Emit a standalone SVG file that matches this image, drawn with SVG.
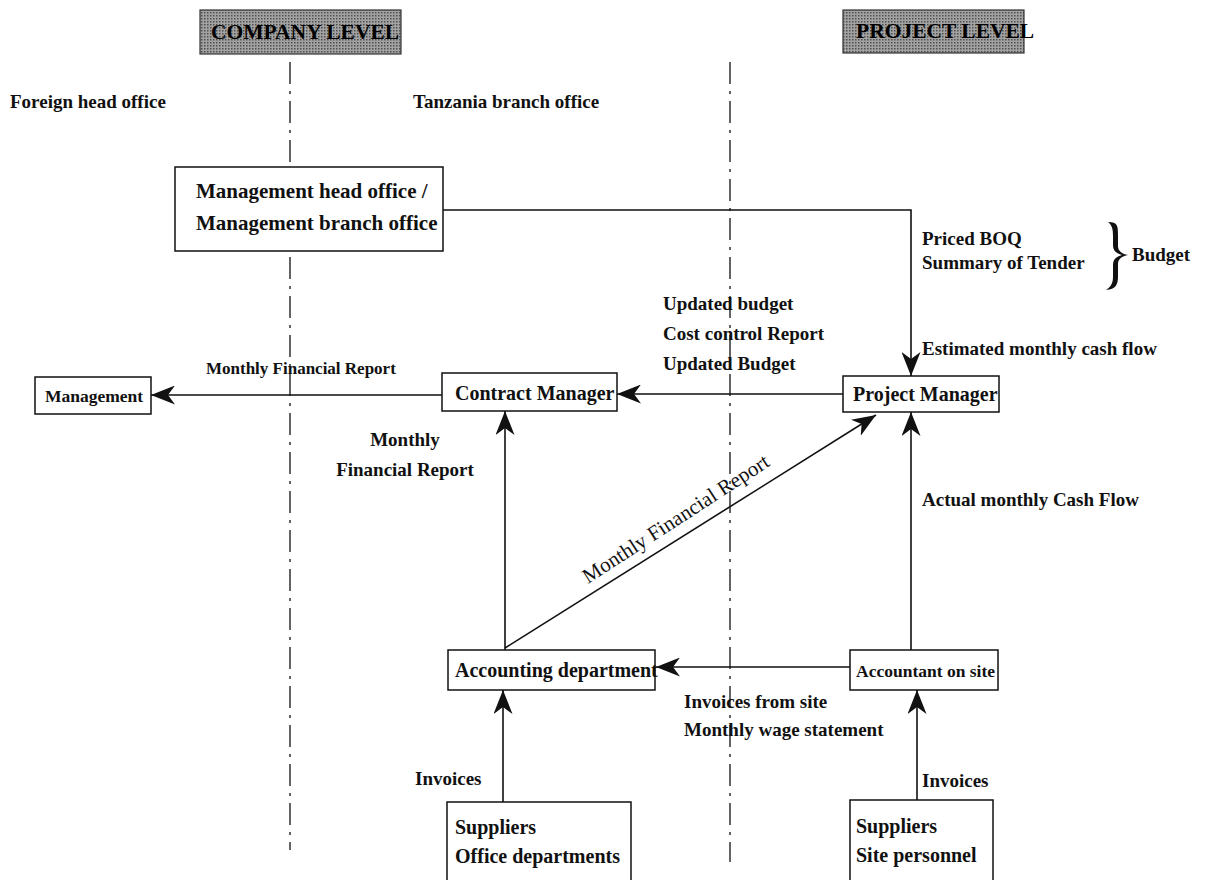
<svg xmlns="http://www.w3.org/2000/svg" width="1214" height="880" viewBox="0 0 1214 880">
  <style>
    .t { font-family: "Liberation Serif", "Times New Roman", serif; font-weight: bold; font-size: 19px; fill: #111; }
    .n { font-family: "Liberation Serif", "Times New Roman", serif; font-weight: bold; font-size: 20px; fill: #111; }
    .r { font-family: "Liberation Serif", "Times New Roman", serif; font-size: 21px; fill: #111; }
    .big { font-size: 21px; }
    .small { font-size: 17px; }
    .mid { font-size: 17.5px; }
    .box { fill: #fff; stroke: #111; stroke-width: 1.5; }
    .edge { fill: none; stroke: #111; stroke-width: 1.6; }
    .divider { fill: none; stroke: #222; stroke-width: 1.4; stroke-dasharray: 22 7 3 7; }
    .banner { stroke: #333; stroke-width: 1.2; fill: url(#halftone); }
    .bt { font-family: "Liberation Serif", "Times New Roman", serif; font-weight: bold; font-size: 21.5px; fill: #000; }
  </style>
  <defs>
    <pattern id="halftone" width="3" height="3" patternUnits="userSpaceOnUse">
      <rect width="3" height="3" fill="#a2a2a2"/>
      <rect x="0" y="0" width="1.5" height="1.5" fill="#505050"/>
    </pattern>
    <marker id="arr" viewBox="0 0 24 19" refX="24" refY="9.5" markerWidth="24" markerHeight="19" markerUnits="userSpaceOnUse" orient="auto">
      <path d="M0,0 L24,9.5 L0,19 L7,9.5 Z" fill="#111"/>
    </marker>
  </defs>
  <rect width="1214" height="880" fill="#fff"/>

  <!-- level banners -->
  <g id="company-level">
    <rect class="banner" x="200" y="10" width="201" height="44"/>
    <text class="bt" x="211" y="39">COMPANY LEVEL</text>
  </g>
  <g id="project-level">
    <rect class="banner" x="843" y="10" width="181" height="43"/>
    <text class="bt" x="856" y="38">PROJECT LEVEL</text>
  </g>

  <!-- column dividers -->
  <g id="dividers">
    <line class="divider" x1="290" y1="62" x2="290" y2="850"/>
    <line class="divider" x1="730" y1="62" x2="730" y2="862"/>
  </g>

  <!-- column headings -->
  <text class="t" x="10" y="108">Foreign head office</text>
  <text class="t" x="413" y="108">Tanzania branch office</text>

  <!-- connectors -->
  <g id="connectors">
    <path class="edge" d="M443,210 H911 V376" marker-end="url(#arr)"/>
    <path class="edge" d="M843,394 H617" marker-end="url(#arr)"/>
    <path class="edge" d="M442,395 H151" marker-end="url(#arr)"/>
    <path class="edge" d="M505,650 V411" marker-end="url(#arr)"/>
    <path class="edge" d="M505,648 L876,415" marker-end="url(#arr)"/>
    <path class="edge" d="M850,667 H656" marker-end="url(#arr)"/>
    <path class="edge" d="M911,650 V412" marker-end="url(#arr)"/>
    <path class="edge" d="M503,802 V690" marker-end="url(#arr)"/>
    <path class="edge" d="M917,800 V690" marker-end="url(#arr)"/>
  </g>

  <!-- nodes -->
  <g id="management-office">
    <rect class="box" x="175" y="167" width="268" height="84"/>
    <text class="n big" x="196" y="198">Management head office /</text>
    <text class="n big" x="196" y="230">Management branch office</text>
  </g>
  <g id="management">
    <rect class="box" x="35" y="377" width="116" height="37"/>
    <text class="n mid" x="45" y="402">Management</text>
  </g>
  <g id="contract-manager">
    <rect class="box" x="442" y="373" width="175" height="38"/>
    <text class="n" x="455" y="400">Contract Manager</text>
  </g>
  <g id="project-manager">
    <rect class="box" x="843" y="376" width="156" height="36"/>
    <text class="n" x="853" y="401">Project Manager</text>
  </g>
  <g id="accounting-department">
    <rect class="box" x="448" y="650" width="207" height="40"/>
    <text class="n" x="455" y="677">Accounting department</text>
  </g>
  <g id="accountant-on-site">
    <rect class="box" x="850" y="650" width="148" height="40"/>
    <text class="n mid" x="856" y="677">Accountant on site</text>
  </g>
  <g id="suppliers-office">
    <rect class="box" x="447" y="802" width="184" height="82"/>
    <text class="n" x="455" y="834">Suppliers</text>
    <text class="n" x="455" y="863">Office departments</text>
  </g>
  <g id="suppliers-site">
    <rect class="box" x="850" y="800" width="143" height="84"/>
    <text class="n" x="856" y="833">Suppliers</text>
    <text class="n" x="856" y="862">Site personnel</text>
  </g>

  <!-- connector labels -->
  <g id="labels">
    <text class="t" x="922" y="245">Priced BOQ</text>
    <text class="t" x="922" y="269">Summary of Tender</text>
    <path d="M1108,222 C1118,222 1118,226 1118,236 L1118,246 C1118,251 1122,254 1128,255 C1122,256 1118,259 1118,264 L1118,276 C1118,285 1116,289 1106,290 C1112,286 1113,282 1113,276 L1113,265 C1113,259 1116,257 1122,255 C1116,253 1113,251 1113,245 L1113,236 C1113,229 1112,225 1108,222 Z" fill="#111"/>
    <text class="t" x="1132" y="261">Budget</text>

    <text class="t" x="663" y="310">Updated budget</text>
    <text class="t" x="663" y="340">Cost control Report</text>
    <text class="t" x="663" y="370">Updated Budget</text>
    <text class="t" x="922" y="355">Estimated monthly cash flow</text>

    <text class="t small" x="206" y="374">Monthly Financial Report</text>

    <text class="t" x="405" y="446" text-anchor="middle">Monthly</text>
    <text class="t" x="405" y="476" text-anchor="middle">Financial Report</text>

    <text class="r" x="0" y="0" transform="translate(588,584) rotate(-33)">Monthly Financial Report</text>

    <text class="t" x="922" y="506">Actual monthly Cash Flow</text>

    <text class="t" x="684" y="708">Invoices from site</text>
    <text class="t" x="684" y="736">Monthly wage statement</text>

    <text class="t" x="415" y="785">Invoices</text>
    <text class="t" x="922" y="787">Invoices</text>
  </g>
</svg>
